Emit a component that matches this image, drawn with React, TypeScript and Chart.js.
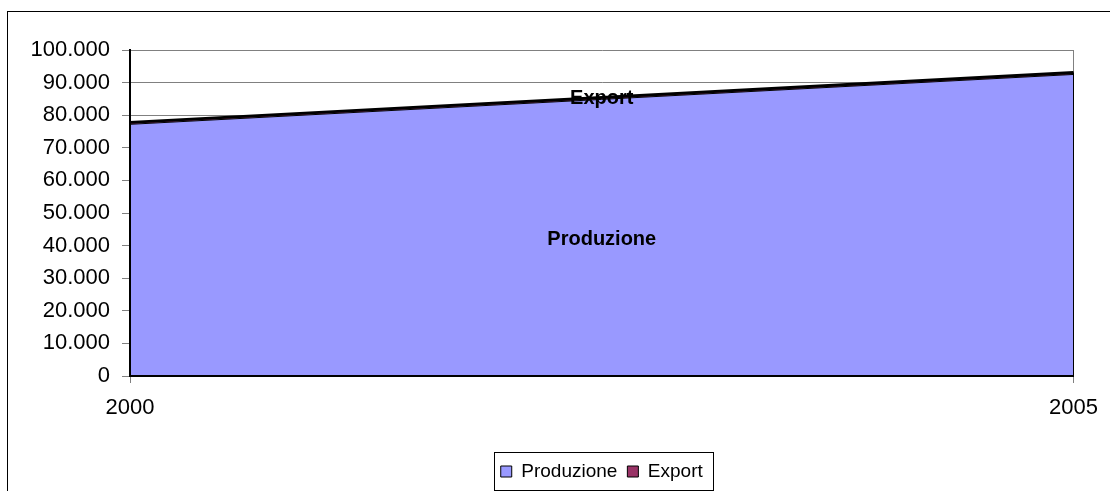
import React, { useEffect, useRef } from "react";
import { Chart, registerables } from "chart.js";

Chart.register(...registerables);

const categories = ["2000", "2005"];
const produzione = [77200, 92500];
const exportVals = [600, 600];
const yTickLabels = ["0", "10.000", "20.000", "30.000", "40.000", "50.000", "60.000", "70.000", "80.000", "90.000", "100.000"];
const seriesNames = ["Produzione", "Export"];

const FONT = "'Liberation Sans', Arial, sans-serif";

const framePlugin = {
  id: "frame",
  beforeDraw(chart: any) {
    const ctx = chart.ctx;
    ctx.save();
    ctx.fillStyle = "#fff";
    ctx.fillRect(0, 0, chart.width, chart.height);
    ctx.strokeStyle = "#000";
    ctx.lineWidth = 1;
    ctx.strokeRect(7.5, 11.5, 3000, 3000);
    ctx.restore();
  },
};

const axesOverPlugin = {
  id: "axesOver",
  afterDatasetsDraw(chart: any) {
    const ctx = chart.ctx;
    const xs = chart.scales.x;
    const ys = chart.scales.y;
    const { left, top, bottom } = chart.chartArea;
    const n = produzione.length;
    const rightX = xs.getPixelForValue(n - 1);
    const topRight = ys.getPixelForValue(produzione[n - 1] + exportVals[n - 1]);
    ctx.save();
    ctx.strokeStyle = "#000";
    ctx.lineWidth = 1;
    ctx.beginPath();
    ctx.moveTo(Math.round(rightX) - 0.5, topRight);
    ctx.lineTo(Math.round(rightX) - 0.5, bottom);
    ctx.stroke();
    ctx.lineWidth = 2;
    ctx.beginPath();
    ctx.moveTo(left, top);
    ctx.lineTo(left, bottom + 1);
    ctx.moveTo(left - 1, bottom);
    ctx.lineTo(rightX, bottom);
    ctx.stroke();
    ctx.restore();
  },
};

const labelsPlugin = {
  id: "areaLabels",
  afterDatasetsDraw(chart: any) {
    const ctx = chart.ctx;
    const xs = chart.scales.x;
    const ys = chart.scales.y;
    const n = produzione.length;
    const midX = (xs.getPixelForValue(0) + xs.getPixelForValue(n - 1)) / 2;
    const avgP = produzione.reduce((a, b) => a + b, 0) / n;
    const avgE = exportVals.reduce((a, b) => a + b, 0) / n;
    ctx.save();
    ctx.font = `bold 20px ${FONT}`;
    ctx.fillStyle = "#000";
    ctx.textAlign = "center";
    ctx.textBaseline = "middle";
    ctx.fillText(seriesNames[0], midX, ys.getPixelForValue(avgP / 2) + 2);
    ctx.fillText(seriesNames[1], midX, ys.getPixelForValue(avgP + avgE) + 1);
    ctx.restore();
  },
};

const legendBoxPlugin = {
  id: "legendBox",
  afterDraw(chart: any) {
    const lg = chart.legend;
    if (!lg || !lg.legendHitBoxes || !lg.legendHitBoxes.length) return;
    const hb = lg.legendHitBoxes;
    const first = hb[0];
    const last = hb[hb.length - 1];
    const left = Math.round(first.left - 7) + 0.5;
    const right = Math.round(last.left + last.width + 10) + 0.5;
    const top = Math.round(first.top - 10) + 0.5;
    const bottom = Math.round(first.top + first.height + 9) + 0.5;
    const ctx = chart.ctx;
    ctx.save();
    ctx.strokeStyle = "#000";
    ctx.lineWidth = 1;
    ctx.strokeRect(left, top, right - left, bottom - top);
    ctx.restore();
  },
};

export default function App() {
  const ref = useRef<HTMLCanvasElement>(null);
  useEffect(() => {
    if (!ref.current) return;
    const chart = new Chart(ref.current, {
      type: "line",
      data: {
        labels: categories,
        datasets: [
          {
            label: seriesNames[0],
            data: produzione,
            backgroundColor: "#9999FF",
            borderColor: "#000",
            borderWidth: 1,
            fill: "origin",
            pointRadius: 0,
            tension: 0,
          },
          {
            label: seriesNames[1],
            data: exportVals,
            backgroundColor: "#993366",
            borderColor: "#000",
            borderWidth: 2.8,
            fill: "-1",
            pointRadius: 0,
            tension: 0,
          },
        ],
      },
      options: {
        animation: false,
        responsive: false,
        layout: { padding: { left: 0, right: 36, top: 50, bottom: 0 } },
        plugins: {
          tooltip: { enabled: false },
          legend: {
            position: "bottom",
            fullSize: false,
            labels: {
              color: "#000",
              font: { family: FONT, size: 19 },
              boxWidth: 11,
              boxHeight: 11,
              padding: 10,
              generateLabels: (c: any) =>
                Chart.defaults.plugins.legend.labels
                  .generateLabels(c)
                  .map((l: any) => ({ ...l, lineWidth: 1, strokeStyle: "#000" })),
            },
          },
        },
        scales: {
          x: {
            type: "category",
            offset: false,
            grid: {
              color: "#808080",
              lineWidth: 1,
              tickLength: 7,
              drawOnChartArea: true,
            },
            border: { color: "#000", width: 2 },
            ticks: {
              color: "#000",
              font: { family: FONT, size: 22 },
              padding: 12,
              maxRotation: 0,
              autoSkip: false,
            },
            afterFit: (s: any) => {
              s.height = 76;
            },
          },
          y: {
            stacked: true,
            min: 0,
            max: 100000,
            grid: { color: "#808080", lineWidth: 1, tickLength: 8 },
            border: { color: "#000", width: 2 },
            ticks: {
              stepSize: 10000,
              color: "#000",
              font: { family: FONT, size: 22 },
              padding: 12,
              callback: (_v: any, i: number) => yTickLabels[i],
            },
            afterFit: (s: any) => {
              s.width = 130;
            },
          },
        },
      },
      plugins: [framePlugin, axesOverPlugin, labelsPlugin, legendBoxPlugin],
    });
    return () => chart.destroy();
  }, []);
  return (
    <div style={{ position: "absolute", left: 0, top: 0, width: 1110, height: 491 }}>
      <canvas ref={ref} width={1110} height={491} style={{ display: "block" }} />
    </div>
  );
}
